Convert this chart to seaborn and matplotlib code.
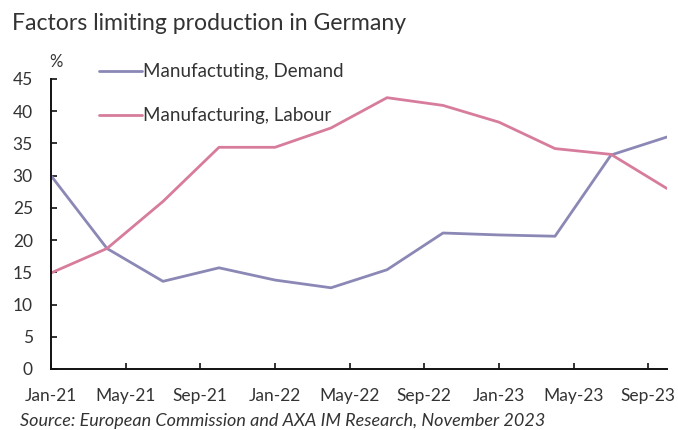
import matplotlib
matplotlib.use("Agg")
import matplotlib.pyplot as plt
import seaborn as sns
import pandas as pd

# Quarterly survey readings (% of firms citing each factor)
quarters = ["Jan-21", "Apr-21", "Jul-21", "Oct-21", "Jan-22", "Apr-22",
            "Jul-22", "Oct-22", "Jan-23", "Apr-23", "Jul-23", "Oct-23"]
demand = [30.0, 18.7, 13.6, 15.7, 13.8, 12.6, 15.4, 21.1, 20.8, 20.6, 33.2, 36.0]
labour = [14.9, 18.7, 26.0, 34.4, 34.4, 37.4, 42.1, 40.9, 38.3, 34.2, 33.3, 28.0]
series_names = ["Manufactuting, Demand", "Manufacturing, Labour"]
tick_labels = ["Jan-21", "May-21", "Sep-21", "Jan-22", "May-22",
               "Sep-22", "Jan-23", "May-23", "Sep-23"]

month_names = ["Jan", "Feb", "Mar", "Apr", "May", "Jun",
               "Jul", "Aug", "Sep", "Oct", "Nov", "Dec"]

def month_index(label):
    m, y = label.split("-")
    return (int(y) - 21) * 12 + month_names.index(m)

x = [month_index(q) for q in quarters]
df = pd.concat([
    pd.DataFrame({"month": x, "value": demand, "series": series_names[0]}),
    pd.DataFrame({"month": x, "value": labour, "series": series_names[1]}),
])

sns.set_theme(style="white")
plt.rcParams["font.family"] = ["Lato", "DejaVu Sans"]

fig = plt.figure(figsize=(6.78, 4.30), dpi=100)
ax = fig.add_axes([0.0752, 0.1419, 0.9086, 0.6744])

palette = {series_names[0]: "#8B88B6", series_names[1]: "#D77C9C"}
sns.lineplot(data=df, x="month", y="value", hue="series", palette=palette,
             linewidth=2.0, ax=ax, legend=True)

ax.set_xlim(0, month_index("Oct-23"))
ax.set_ylim(0, 45)
ax.set_yticks(range(0, 46, 5))
ax.set_xticks([month_index(t) for t in tick_labels])
ax.set_xticklabels(tick_labels)
ax.set_xlabel("")
ax.set_ylabel("")

for side in ("top", "right"):
    ax.spines[side].set_visible(False)
for side in ("left", "bottom"):
    ax.spines[side].set_color("#111111")
    ax.spines[side].set_linewidth(1.4)

ax.tick_params(axis="both", direction="in", length=4, width=1.2,
               colors="#111111", labelcolor="#333333", labelsize=12.5,
               left=True, bottom=True)
ax.tick_params(axis="y", pad=13)
ax.tick_params(axis="x", pad=14)

leg = ax.legend(loc="upper left", bbox_to_anchor=(0.066, 1.08), frameon=False,
                fontsize=13.5, handlelength=2.3, handletextpad=0.05,
                labelspacing=1.45, borderaxespad=0)
for t in leg.get_texts():
    t.set_color("#333333")

fig.text(0.073, 0.845, "%", fontsize=12, color="#333333")
fig.text(0.017, 0.93, "Factors limiting production in Germany",
         fontsize=16.6, color="#333333")
fig.text(0.03, 0.01, "Source: European Commission and AXA IM Research, November 2023",
         fontsize=13, color="#333333", style="italic")

fig.savefig("out.png", dpi=100)
